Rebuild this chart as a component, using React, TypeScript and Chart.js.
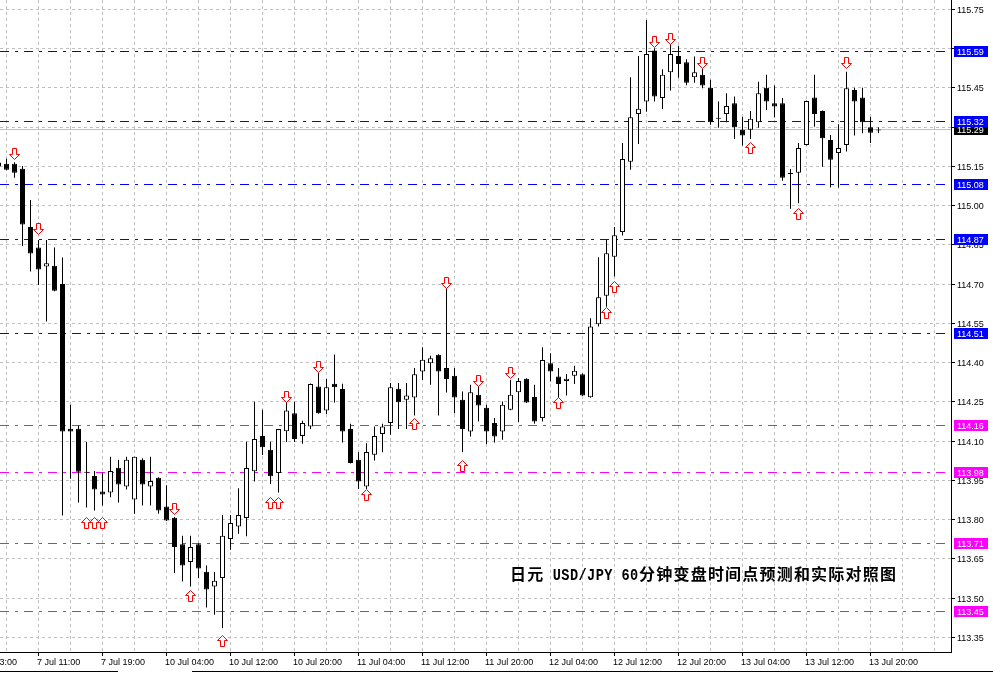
import React, { useEffect, useRef } from 'react';
import { Chart, registerables } from 'chart.js';

Chart.register(...registerables);

// ---------------- data ----------------
const firstBarIndex = -1; // bar index of first entry (bar 0 = 7 Jul 07:00, 1 hour per bar)

const opens = [
  115.165, 115.160, 115.160, 115.141, 114.918, 114.840, 114.767, 114.770, 114.701, 114.147,
  114.147, 113.979, 113.967, 113.907, 113.904, 113.998, 113.927, 113.877, 114.029, 113.927,
  113.960, 113.850, 113.807, 113.706, 113.638, 113.706, 113.601, 113.544, 113.577, 113.726,
  113.774, 113.806, 113.985, 114.120, 114.067, 113.978, 114.138, 114.207, 114.120, 114.156,
  114.309, 114.217, 114.319, 114.299, 114.146, 114.029, 113.927, 114.048, 114.127, 114.169,
  114.300, 114.258, 114.267, 114.366, 114.398, 114.430, 114.379, 114.350, 114.258, 114.137,
  114.277, 114.228, 114.169, 114.137, 114.220, 114.287, 114.338, 114.269, 114.188, 114.398,
  114.347, 114.330, 114.350, 114.356, 114.268, 114.547, 114.656, 114.805, 114.899, 115.168,
  115.350, 115.398, 115.593, 115.411, 115.510, 115.572, 115.548, 115.491, 115.500, 115.451,
  115.332, 115.350, 115.391, 115.290, 115.290, 115.319, 115.451, 115.391, 115.391, 115.121,
  115.126, 115.232, 115.413, 115.362, 115.251, 115.201, 115.232, 115.442, 115.413, 115.300,
  115.287,
];
const highs = [
  115.175, 115.179, 115.166, 115.152, 115.022, 114.869, 114.869, 114.840, 114.802, 114.239,
  114.159, 114.097, 113.986, 113.979, 114.040, 114.029, 114.040, 114.040, 114.035, 114.040,
  113.962, 113.931, 113.810, 113.738, 113.738, 113.710, 113.625, 113.600, 113.818, 113.818,
  113.920, 114.098, 114.250, 114.220, 114.098, 114.146, 114.250, 114.250, 114.178, 114.320,
  114.360, 114.337, 114.431, 114.319, 114.166, 114.057, 114.092, 114.156, 114.166, 114.322,
  114.322, 114.322, 114.379, 114.459, 114.426, 114.432, 114.685, 114.379, 114.290, 114.315,
  114.322, 114.239, 114.188, 114.251, 114.334, 114.341, 114.340, 114.315, 114.459, 114.436,
  114.379, 114.357, 114.388, 114.358, 114.570, 114.803, 114.869, 114.918, 115.239, 115.491,
  115.572, 115.710, 115.602, 115.521, 115.621, 115.611, 115.560, 115.570, 115.523, 115.481,
  115.398, 115.430, 115.417, 115.340, 115.362, 115.474, 115.500, 115.459, 115.411, 115.140,
  115.239, 115.402, 115.500, 115.364, 115.270, 115.311, 115.512, 115.451, 115.451, 115.340,
  115.300,
];
const lows = [
  115.145, 115.135, 115.107, 114.846, 114.748, 114.697, 114.557, 114.673, 113.816, 113.956,
  113.865, 113.846, 113.835, 113.854, 113.885, 113.865, 113.915, 113.822, 113.854, 113.854,
  113.822, 113.795, 113.596, 113.563, 113.544, 113.577, 113.464, 113.436, 113.385, 113.685,
  113.746, 113.736, 113.946, 114.047, 113.936, 113.904, 114.097, 114.097, 114.090, 114.146,
  114.205, 114.204, 114.248, 114.095, 114.014, 113.917, 113.917, 114.026, 114.057, 114.124,
  114.146, 114.146, 114.198, 114.334, 114.315, 114.198, 114.286, 114.207, 114.057, 114.118,
  114.175, 114.089, 114.095, 114.105, 114.218, 114.173, 114.246, 114.166, 114.175, 114.328,
  114.258, 114.274, 114.318, 114.272, 114.266, 114.538, 114.614, 114.729, 114.886, 115.137,
  115.236, 115.359, 115.398, 115.369, 115.440, 115.489, 115.460, 115.470, 115.449, 115.309,
  115.298, 115.319, 115.255, 115.230, 115.255, 115.298, 115.366, 115.337, 115.095, 114.988,
  115.009, 115.230, 115.302, 115.149, 115.069, 115.069, 115.207, 115.268, 115.277, 115.239,
  115.278,
];
const closes = [
  115.150, 115.137, 115.126, 114.928, 114.817, 114.756, 114.780, 114.675, 114.137, 114.137,
  113.983, 113.979, 113.915, 113.896, 113.986, 113.934, 114.029, 114.040, 113.934, 113.948,
  113.835, 113.797, 113.695, 113.625, 113.695, 113.613, 113.533, 113.566, 113.738, 113.787,
  113.818, 113.997, 114.108, 114.077, 113.966, 114.146, 114.217, 114.108, 114.169, 114.318,
  114.207, 114.306, 114.306, 114.137, 114.016, 113.946, 114.058, 114.120, 114.156, 114.306,
  114.249, 114.274, 114.356, 114.411, 114.417, 114.366, 114.337, 114.267, 114.146, 114.287,
  114.236, 114.137, 114.118, 114.239, 114.277, 114.330, 114.248, 114.175, 114.410, 114.366,
  114.318, 114.338, 114.369, 114.274, 114.538, 114.650, 114.818, 114.887, 115.178, 115.338,
  115.370, 115.580, 115.417, 115.500, 115.580, 115.541, 115.470, 115.510, 115.459, 115.319,
  115.332, 115.381, 115.300, 115.268, 115.332, 115.430, 115.398, 115.379, 115.107, 115.121,
  115.220, 115.400, 115.350, 115.258, 115.175, 115.220, 115.449, 115.398, 115.319, 115.279,
  115.287,
];

const yMin = 113.294;
const yMax = 115.786;
const yTickStart = 115.75;
const yTickStep = 0.15;
const yTickCount = 17;

const xGridEveryBars = 4;
const xLabelBars = [-4, 4, 12, 20, 28, 36, 44, 52, 60, 68, 76, 84, 92, 100, 108];
const xLabelTexts = [
  '7 Jul 03:00', '7 Jul 11:00', '7 Jul 19:00', '10 Jul 04:00', '10 Jul 12:00',
  '10 Jul 20:00', '11 Jul 04:00', '11 Jul 12:00', '11 Jul 20:00', '12 Jul 04:00',
  '12 Jul 12:00', '12 Jul 20:00', '13 Jul 04:00', '13 Jul 12:00', '13 Jul 20:00',
];

const levelValues = [115.59, 115.32, 115.08, 114.87, 114.51, 114.16, 113.98, 113.71, 113.45];
const levelColors = ['#0000ff', '#0000ff', '#0000ff', '#0000ff', '#0000ff', '#ff00ff', '#ff00ff', '#ff00ff', '#ff00ff'];
const currentPrice = 115.29;

const downArrowBars = [1, 4, 21, 35, 39, 55, 59, 63, 81, 83, 87, 105];
const downArrowPrices = [115.175, 114.888, 113.818, 114.248, 114.361, 114.682, 114.309, 114.338, 115.604, 115.617, 115.525, 115.525];
const upArrowBars = [10, 11, 12, 23, 27, 33, 34, 45, 51, 57, 69, 75, 76, 93, 99];
const upArrowPrices = [113.807, 113.807, 113.807, 113.528, 113.356, 113.883, 113.883, 113.914, 114.185, 114.026, 114.265, 114.609, 114.710, 115.243, 114.988];

const titleText = '日元 USD/JPY 60分钟变盘时间点预测和实际对照图';

// ---------------- component ----------------
const W = 993;
const H = 673;
const AXIS_FONT = '9px "Liberation Sans", Arial, sans-serif';

export default function App() {
  const ref = useRef<HTMLCanvasElement | null>(null);

  useEffect(() => {
    document.body.style.margin = '0';
    const canvas = ref.current;
    if (!canvas) return;

    const barIdx = opens.map((_, i) => i + firstBarIndex);
    const bodyData = barIdx.map((k, i) => ({ x: k, y: [opens[i], closes[i]] }));
    const wickData = barIdx.map((k, i) => ({ x: k, y: [lows[i], highs[i]] }));
    const bodyColors = opens.map((o, i) => (closes[i] > o ? '#ffffff' : '#000000'));

    const crisp = (v: number) => Math.round(v - 0.5) + 0.5;

    const drawArrow = (ctx: CanvasRenderingContext2D, cx: number, ty: number, up: boolean) => {
      const s = up ? 1 : -1;
      ctx.beginPath();
      ctx.moveTo(cx, ty);
      ctx.lineTo(cx + 5, ty + s * 5);
      ctx.lineTo(cx + 2, ty + s * 5);
      ctx.lineTo(cx + 2, ty + s * 11);
      ctx.lineTo(cx - 2, ty + s * 11);
      ctx.lineTo(cx - 2, ty + s * 5);
      ctx.lineTo(cx - 5, ty + s * 5);
      ctx.closePath();
      ctx.fillStyle = '#ffffff';
      ctx.fill();
      ctx.strokeStyle = '#ff0000';
      ctx.lineWidth = 1;
      ctx.stroke();
    };

    const mt4Plugin = {
      id: 'mt4',
      beforeDraw(chart: any) {
        const ctx = chart.ctx;
        ctx.save();
        ctx.fillStyle = '#ffffff';
        ctx.fillRect(0, 0, W, H);
        ctx.restore();
      },
      beforeDatasetsDraw(chart: any) {
        const ctx: CanvasRenderingContext2D = chart.ctx;
        const xs = chart.scales.x;
        const ys = chart.scales.y;
        const a = chart.chartArea;
        ctx.save();
        ctx.beginPath();
        ctx.rect(a.left, a.top, a.right - a.left, a.bottom - a.top);
        ctx.clip();
        // grid
        ctx.strokeStyle = '#c0c0c0';
        ctx.lineWidth = 1;
        ctx.setLineDash([3, 3]);
        for (let k = -8; k <= 124; k += xGridEveryBars) {
          const x = crisp(xs.getPixelForValue(k));
          if (x < a.left || x > a.right) continue;
          ctx.beginPath();
          ctx.moveTo(x, a.top);
          ctx.lineTo(x, a.bottom);
          ctx.stroke();
        }
        for (let j = 0; j < yTickCount; j++) {
          const y = crisp(ys.getPixelForValue(yTickStart - j * yTickStep));
          ctx.beginPath();
          ctx.moveTo(a.left, y);
          ctx.lineTo(a.right, y);
          ctx.stroke();
        }
        // current price line
        ctx.setLineDash([]);
        ctx.strokeStyle = '#c0c0c0';
        const cy = crisp(ys.getPixelForValue(currentPrice));
        ctx.beginPath();
        ctx.moveTo(a.left, cy);
        ctx.lineTo(a.right, cy);
        ctx.stroke();
        // level lines
        ctx.setLineDash([9, 6, 3, 6]);
        levelValues.forEach((v, i) => {
          const y = crisp(ys.getPixelForValue(v));
          ctx.strokeStyle = levelColors[i];
          ctx.beginPath();
          ctx.moveTo(a.left, y);
          ctx.lineTo(a.right, y);
          ctx.stroke();
        });
        ctx.restore();
      },
      afterDatasetsDraw(chart: any) {
        const ctx: CanvasRenderingContext2D = chart.ctx;
        const xs = chart.scales.x;
        const ys = chart.scales.y;
        ctx.save();
        downArrowBars.forEach((k, i) => {
          const cx = crisp(xs.getPixelForValue(k));
          const ty = crisp(ys.getPixelForValue(downArrowPrices[i]));
          drawArrow(ctx, cx, ty, false);
        });
        upArrowBars.forEach((k, i) => {
          const cx = crisp(xs.getPixelForValue(k));
          const ty = crisp(ys.getPixelForValue(upArrowPrices[i]));
          drawArrow(ctx, cx, ty, true);
        });
        ctx.restore();
      },
      afterDraw(chart: any) {
        const ctx: CanvasRenderingContext2D = chart.ctx;
        const xs = chart.scales.x;
        const ys = chart.scales.y;
        const a = chart.chartArea;
        ctx.save();
        // title
        let tx = 509.5;
        for (const ch of Array.from(titleText)) {
          const wide = ch.charCodeAt(0) > 0x2e80;
          const w = wide ? 17.2 : 8.6;
          if (ch !== ' ') {
            ctx.fillStyle = '#000000';
            ctx.textBaseline = 'alphabetic';
            ctx.textAlign = 'center';
            if (wide) {
              ctx.font = 'bold 16px "Noto Sans CJK SC"';
              ctx.fillText(ch, tx + w / 2, 579.5);
            } else {
              ctx.save();
              ctx.translate(tx + w / 2, 580);
              ctx.scale(0.8, 1);
              ctx.font = 'bold 17px "Liberation Mono", monospace';
              ctx.fillText(ch, 0, 0);
              ctx.restore();
            }
          }
          tx += w;
        }
        // axes
        ctx.fillStyle = '#000000';
        ctx.fillRect(a.left, a.bottom, a.right - a.left + 1, 1);
        ctx.fillRect(a.right, a.top, 1, a.bottom - a.top + 1);
        // bottom window border
        ctx.fillRect(0, 671, 118, 1);
        ctx.fillRect(192, 671, W - 192, 1);
        ctx.font = AXIS_FONT;
        ctx.textBaseline = 'alphabetic';
        ctx.textAlign = 'left';
        // x labels
        xLabelBars.forEach((k, i) => {
          const x = Math.round(xs.getPixelForValue(k) - 0.5);
          ctx.fillRect(x, a.bottom + 1, 1, 3);
          ctx.fillText(xLabelTexts[i], x - 1, a.bottom + 13);
        });
        // y labels
        for (let j = 0; j < yTickCount; j++) {
          const v = yTickStart - j * yTickStep;
          const y = Math.round(ys.getPixelForValue(v) - 0.5);
          ctx.fillRect(a.right + 1, y, 3, 1);
          ctx.fillText(v.toFixed(2), a.right + 6, y + 4);
        }
        // boxes
        const box = (v: number, bg: string) => {
          const y = Math.round(ys.getPixelForValue(v) - 0.5);
          ctx.fillStyle = bg;
          ctx.fillRect(a.right + 3, y - 5, 34, 11);
          ctx.fillStyle = '#ffffff';
          ctx.fillText(v.toFixed(2), a.right + 6, y + 4);
        };
        box(currentPrice, '#000000');
        levelValues.forEach((v, i) => box(v, levelColors[i]));
        ctx.restore();
      },
    };

    const chart = new Chart(canvas, {
      type: 'bar',
      data: {
        datasets: [
          {
            data: bodyData as any,
            backgroundColor: bodyColors,
            borderColor: '#000000',
            borderWidth: 1,
            borderSkipped: false,
            barThickness: 5,
            minBarLength: 1,
            inflateAmount: 0,
            grouped: false,
            order: 0,
          } as any,
          {
            data: wickData as any,
            backgroundColor: '#000000',
            borderWidth: 0,
            barThickness: 1,
            inflateAmount: 0,
            grouped: false,
            order: 1,
          } as any,
        ],
      },
      options: {
        responsive: false,
        animation: false,
        events: [],
        layout: { padding: 0 },
        plugins: { legend: { display: false }, tooltip: { enabled: false }, title: { display: false } },
        scales: {
          x: {
            type: 'linear',
            min: -0.8125,
            max: 118.0625,
            offset: false,
            grid: { display: false, offset: false },
            border: { display: false },
            ticks: { display: false },
            afterFit: (s: any) => { s.height = 21; },
          },
          y: {
            type: 'linear',
            position: 'right',
            min: yMin,
            max: yMax,
            grid: { display: false },
            border: { display: false },
            ticks: { display: false },
            afterFit: (s: any) => { s.width = 42; },
          },
        },
      } as any,
      plugins: [mt4Plugin],
    });

    return () => chart.destroy();
  }, []);

  return (
    <div style={{ position: 'absolute', left: 0, top: 0, width: W, height: H }}>
      <canvas ref={ref} width={W} height={H} style={{ width: W, height: H, display: 'block' }} />
    </div>
  );
}
